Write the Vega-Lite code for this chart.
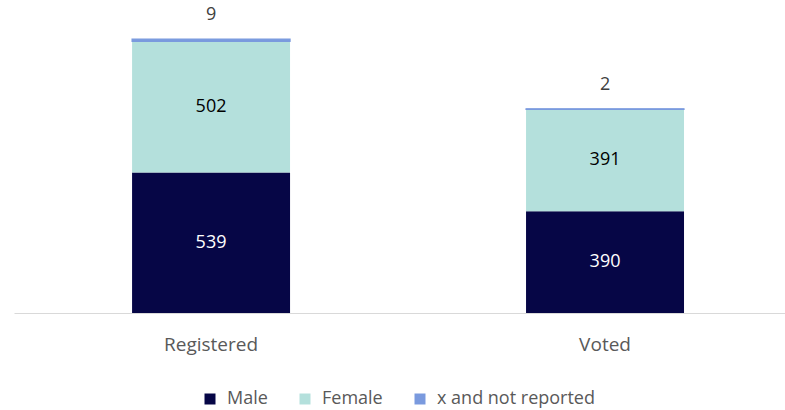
{
  "$schema": "https://vega.github.io/schema/vega-lite/v6.json",
  "width": 771,
  "height": 313,
  "autosize": {"type": "none"},
  "padding": {"left": 14, "top": 0, "right": 0, "bottom": 97},
  "background": "white",
  "config": {"view": {"stroke": null}, "font": "Open Sans"},
  "data": {
    "values": [
      {"status": "Registered", "group": "Male", "order": 1, "value": 539},
      {"status": "Registered", "group": "Female", "order": 2, "value": 502},
      {"status": "Registered", "group": "x and not reported", "order": 3, "value": 9},
      {"status": "Voted", "group": "Male", "order": 1, "value": 390},
      {"status": "Voted", "group": "Female", "order": 2, "value": 391},
      {"status": "Voted", "group": "x and not reported", "order": 3, "value": 2}
    ]
  },
  "transform": [
    {"stack": "value", "groupby": ["status"], "sort": [{"field": "order"}], "as": ["v0", "v1"]},
    {"calculate": "(datum.v0 + datum.v1) / 2", "as": "mid"}
  ],
  "encoding": {
    "x": {
      "field": "status", "type": "nominal",
      "scale": {"paddingInner": 0.599, "paddingOuter": 0.278, "align": 0.539},
      "axis": {"title": null, "labelAngle": 0, "ticks": false, "domainColor": "#d9d9d9", "domainWidth": 1, "labelColor": "#595959", "labelFontSize": 19, "labelPadding": 22, "labelFont": "Open Sans"}
    },
    "y": {"field": "v0", "type": "quantitative", "scale": {"domain": [0, 1200]}, "axis": null}
  },
  "layer": [
    {
      "mark": {"type": "bar"},
      "encoding": {
        "y2": {"field": "v1"},
        "color": {
          "field": "group", "type": "nominal",
          "scale": {"domain": ["Male", "Female", "x and not reported"], "range": ["#060646", "#b4e0dc", "#7a9ade"]},
          "legend": {
            "title": null, "orient": "none", "direction": "horizontal",
            "legendX": 187, "legendY": 390,
            "symbolType": "square", "symbolSize": 121, "symbolStrokeWidth": 0,
            "labelFontSize": 18, "labelColor": "#595959", "labelFont": "Open Sans",
            "columnPadding": 28, "symbolOffset": 0, "labelOffset": 8
          }
        }
      }
    },
    {
      "transform": [{"filter": "datum.group == 'x and not reported'"}],
      "mark": {"type": "bar", "stroke": "#7a9ade", "strokeWidth": 1.2},
      "encoding": {
        "y2": {"field": "v1"},
        "color": {"field": "group", "type": "nominal"}
      }
    },
    {
      "transform": [{"filter": "datum.group == 'Male'"}],
      "mark": {"type": "text", "fontSize": 18, "color": "white", "baseline": "middle"},
      "encoding": {
        "y": {"field": "mid", "type": "quantitative"},
        "text": {"field": "value", "type": "quantitative"}
      }
    },
    {
      "transform": [{"filter": "datum.group == 'Female'"}],
      "mark": {"type": "text", "fontSize": 18, "color": "#000000", "baseline": "middle"},
      "encoding": {
        "y": {"field": "mid", "type": "quantitative"},
        "text": {"field": "value", "type": "quantitative"}
      }
    },
    {
      "transform": [{"filter": "datum.group == 'x and not reported'"}],
      "mark": {"type": "text", "fontSize": 18, "color": "#404040", "baseline": "middle", "dy": -24},
      "encoding": {
        "y": {"field": "v1", "type": "quantitative"},
        "text": {"field": "value", "type": "quantitative"}
      }
    }
  ]
}
